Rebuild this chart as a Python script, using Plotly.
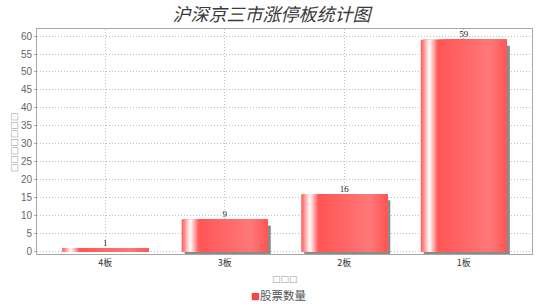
import plotly.graph_objects as go

# Limit-up board counts for the three exchanges
categories = ["4板", "3板", "2板", "1板"]
counts = [1, 9, 16, 59]
series_name = "股票数量"
chart_title = "沪深京三市涨停板统计图"
x_title = "□□□"
y_title = "□□□□□□□"
y_ticks = list(range(0, 61, 5))

BAR_W = 0.72          # bar width in category units
N_STRIPES = 60        # slices used to paint the horizontal gradient
BASE = (255, 85, 85)
BRIGHT = (255, 121, 121)
WHITE = (255, 255, 255)


def mix(a, b, t):
    return tuple(round(a[i] + (b[i] - a[i]) * t) for i in range(3))


def gradient(t):
    # base -> white -> base -> brighter -> base across the bar width
    if t < 0.10:
        return mix(BASE, WHITE, t / 0.10)
    if t < 0.20:
        return mix(WHITE, BASE, (t - 0.10) / 0.10)
    if t < 0.80:
        return mix(BASE, BRIGHT, (t - 0.20) / 0.60)
    return mix(BRIGHT, BASE, (t - 0.80) / 0.20)


fig = go.Figure()

# drop shadow, shifted a few pixels right and down
fig.add_trace(go.Bar(
    x=categories, y=[v - 0.85 for v in counts], base=-0.85,
    width=BAR_W, offset=-BAR_W / 2 + 0.025,
    marker=dict(color="#8a8a8a", line=dict(width=0)),
    showlegend=False, hoverinfo="skip",
))

# gradient bars: each slice runs from its start to the bar's right edge
step = BAR_W / N_STRIPES
for i in range(N_STRIPES):
    r, g, b = gradient((i + 0.5) / N_STRIPES)
    fig.add_trace(go.Bar(
        x=categories, y=counts,
        width=BAR_W - i * step, offset=-BAR_W / 2 + i * step,
        marker=dict(color=f"rgb({r},{g},{b})", line=dict(width=0)),
        showlegend=False, hoverinfo="skip",
    ))

# value labels above bars
fig.add_trace(go.Scatter(
    x=categories, y=counts, mode="text",
    text=[str(v) for v in counts], textposition="top center",
    textfont=dict(family="Liberation Serif", size=9, color="#222"),
    showlegend=False, hoverinfo="skip",
))

grid = dict(showgrid=True, gridcolor="#bdbdbd", griddash="1px,2px", gridwidth=1,
            showline=True, linecolor="#a8a8a8", linewidth=1, mirror=True,
            zeroline=False)

fig.update_layout(
    width=540, height=304,
    margin=dict(l=37, r=8, t=29, b=50),
    paper_bgcolor="white", plot_bgcolor="white",
    barmode="overlay", showlegend=False,
    title=dict(
        text=chart_title, x=0.503, xanchor="center", y=0.952, yanchor="middle",
        font=dict(family="Noto Sans CJK SC", size=18, color="#3a3a3a", style="italic"),
    ),
    xaxis=dict(
        type="category", range=[-0.57, 3.57], ticks="",
        tickfont=dict(family="Noto Sans CJK SC", size=9, color="#333"), **grid,
    ),
    yaxis=dict(
        range=[-0.64, 61.96], tickvals=y_ticks,
        ticks="outside", ticklen=2, tickcolor="#a8a8a8",
        tickfont=dict(family="Liberation Sans", size=10, color="#666"), **grid,
    ),
    annotations=[
        dict(text=x_title, xref="paper", yref="paper", x=0.50, y=-0.112,
             xanchor="center", yanchor="middle", showarrow=False,
             font=dict(family="DejaVu Sans", size=9, color="#999")),
        dict(text=y_title, xref="paper", yref="paper", x=-0.047, y=0.495,
             xanchor="center", yanchor="middle", showarrow=False, textangle=-90,
             font=dict(family="DejaVu Sans", size=9, color="#999")),
        # legend: series swatch and name
        dict(text=f"<span style='color:rgb(240,70,70);font-size:9px'>■</span>{series_name}",
             xref="paper", yref="paper", x=0.487, y=-0.18,
             xanchor="center", yanchor="middle", showarrow=False,
             font=dict(family="Noto Sans CJK SC", size=11.5, color="#555")),
    ],
)

fig.write_html("out.html")
